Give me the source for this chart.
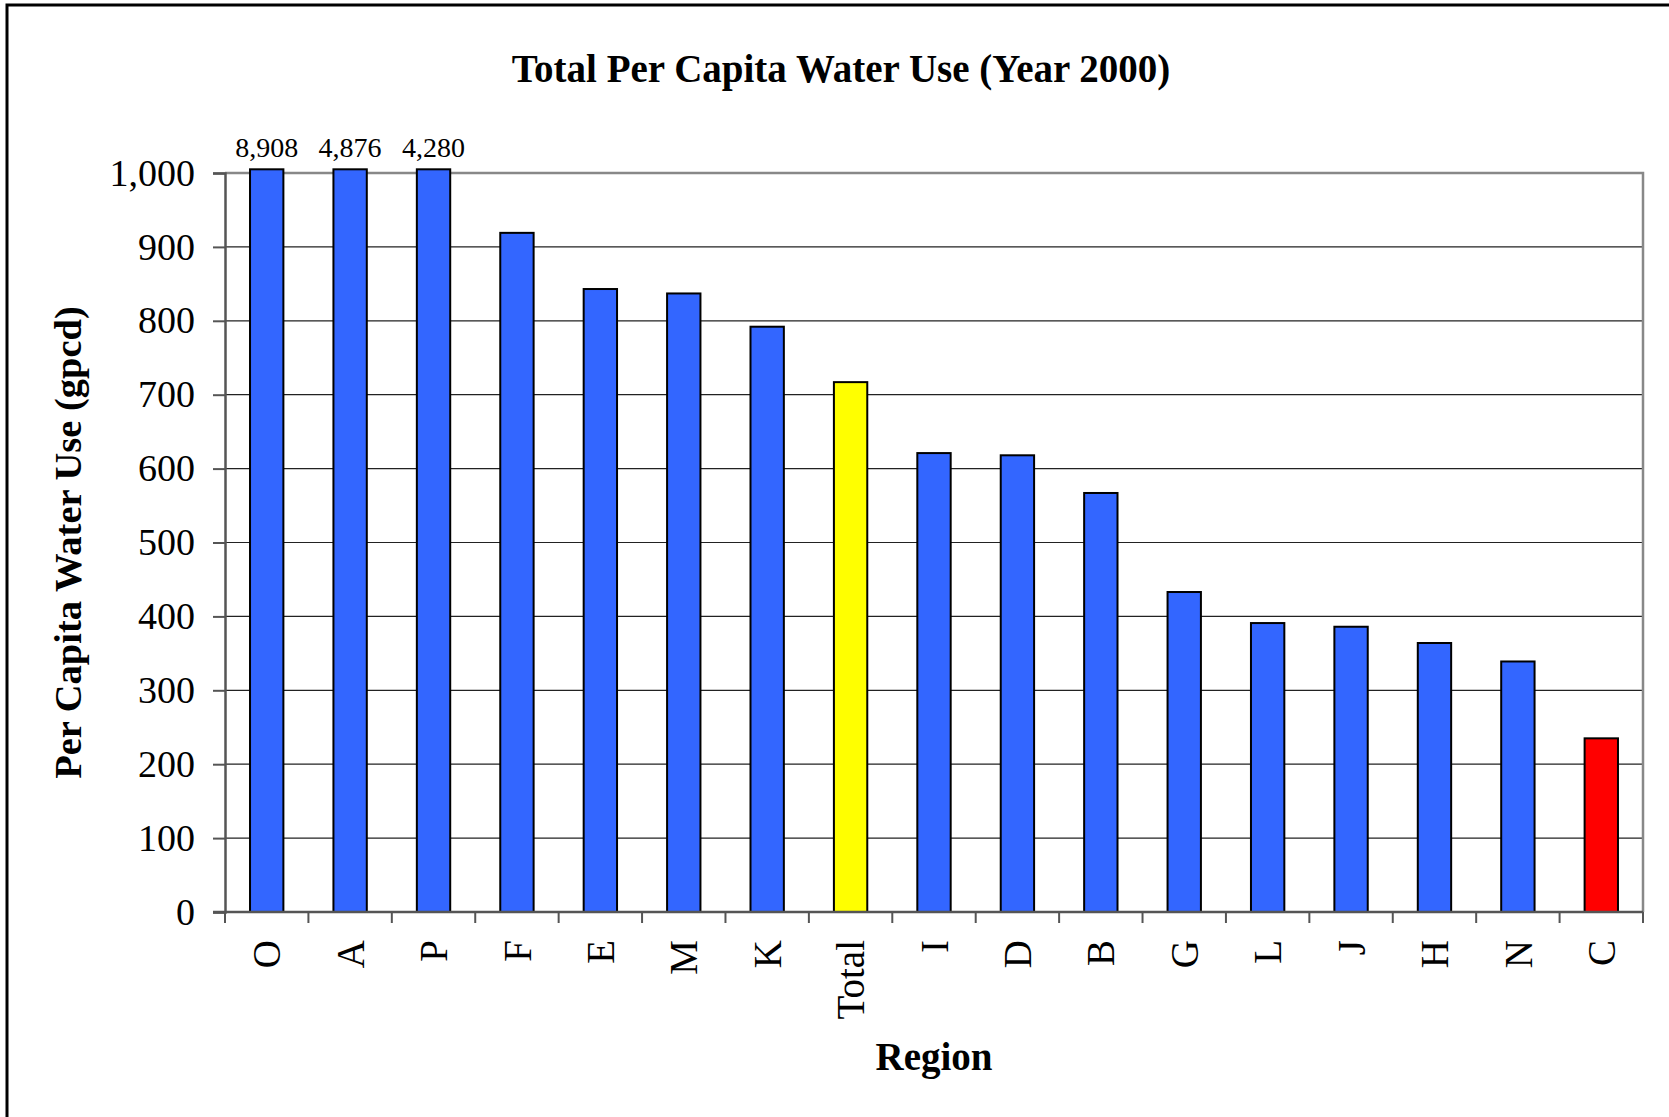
<!DOCTYPE html>
<html>
<head>
<meta charset="utf-8">
<script src="https://cdn.jsdelivr.net/npm/d3@7"></script>
<style>
  body { margin: 0; background: #fff; }
  text { font-family: "Liberation Serif", "Times New Roman", serif; fill: #000; }
</style>
</head>
<body>
<div id="chart"></div>
<script>
const regions = ["O", "A", "P", "F", "E", "M", "K", "Total", "I", "D", "B", "G", "L", "J", "H", "N", "C"];
const gpcd = [8908, 4876, 4280, 919, 843, 837, 792, 717, 621, 618, 567, 433, 391, 386, 364, 339, 235];
const yTicks = [0, 100, 200, 300, 400, 500, 600, 700, 800, 900, 1000];

const width = 1669;
const height = 1117;
const margin = { top: 173, right: 26, bottom: 205, left: 225 };
const yMax = 1000;

const svg = d3
  .select("#chart")
  .append("svg")
  .attr("width", width)
  .attr("height", height);

// outer frame (runs off the right and bottom edges like the original)
svg
  .append("rect")
  .attr("x", 7)
  .attr("y", 5)
  .attr("width", width + 10)
  .attr("height", height + 10)
  .attr("fill", "none")
  .attr("stroke", "#000")
  .attr("stroke-width", 3);

const x = d3
  .scaleBand()
  .domain(regions)
  .range([margin.left, width - margin.right])
  .paddingInner(0.6)
  .paddingOuter(0.3);

const y = d3
  .scaleLinear()
  .domain([0, yMax])
  .range([height - margin.bottom, margin.top]);

const data = regions.map((r, i) => ({ region: r, value: gpcd[i] }));

// gridlines
svg
  .append("g")
  .selectAll("line")
  .data(yTicks.slice(1))
  .join("line")
  .attr("x1", margin.left)
  .attr("x2", width - margin.right)
  .attr("y1", (d) => y(d))
  .attr("y2", (d) => y(d))
  .attr("stroke", "#222")
  .attr("stroke-width", 1.2);

// plot area border (top and right)
svg
  .append("path")
  .attr("d", `M${margin.left},${y(yMax)}H${width - margin.right}V${y(0)}`)
  .attr("fill", "none")
  .attr("stroke", "#888")
  .attr("stroke-width", 2.5);

// bars, clipped just above the axis max
const fill = (d) => (d.region === "Total" ? "#FFFF00" : d.region === "C" ? "#FF0000" : "#3366FF");

svg
  .append("g")
  .selectAll("rect")
  .data(data)
  .join("rect")
  .attr("x", (d) => x(d.region))
  .attr("width", x.bandwidth())
  .attr("y", (d) => y(Math.min(d.value, yMax + 5)))
  .attr("height", (d) => y(0) - y(Math.min(d.value, yMax + 5)))
  .attr("fill", fill)
  .attr("stroke", "#000")
  .attr("stroke-width", 2);

// value labels for bars that run off the scale
svg
  .append("g")
  .selectAll("text")
  .data(data.filter((d) => d.value > yMax))
  .join("text")
  .attr("x", (d) => x(d.region) + x.bandwidth() / 2)
  .attr("y", y(yMax) - 16)
  .attr("text-anchor", "middle")
  .style("font-size", "28px")
  .text((d) => d3.format(",")(d.value));

// y axis
const yAxis = svg
  .append("g")
  .attr("transform", `translate(${margin.left},0)`)
  .call(
    d3
      .axisLeft(y)
      .tickValues(yTicks)
      .tickSize(12)
      .tickPadding(18)
      .tickFormat(d3.format(","))
  );
yAxis.select(".domain").attr("stroke", "#555").attr("stroke-width", 2.5);
yAxis.selectAll(".tick line").attr("stroke", "#555").attr("stroke-width", 2);
yAxis
  .selectAll(".tick text")
  .style("font-size", "38px")
  .style("font-family", '"Liberation Serif", serif')
  .attr("fill", "#000");

// x axis: ticks at band edges
const xAxisG = svg.append("g");
xAxisG
  .append("line")
  .attr("x1", margin.left - 12)
  .attr("x2", width - margin.right)
  .attr("y1", y(0))
  .attr("y2", y(0))
  .attr("stroke", "#555")
  .attr("stroke-width", 2.5);

const edges = d3.range(regions.length + 1).map((i) => margin.left + i * x.step() + x.step() * 0 - x.paddingOuter() * x.step() * 0);
xAxisG
  .selectAll(".xtick")
  .data(d3.range(regions.length + 1))
  .join("line")
  .attr("class", "xtick")
  .attr("x1", (i) => margin.left + i * (width - margin.right - margin.left) / regions.length)
  .attr("x2", (i) => margin.left + i * (width - margin.right - margin.left) / regions.length)
  .attr("y1", y(0))
  .attr("y2", y(0) + 11)
  .attr("stroke", "#555")
  .attr("stroke-width", 2);

xAxisG
  .selectAll("text")
  .data(regions)
  .join("text")
  .attr("transform", (d) => `translate(${x(d) + x.bandwidth() / 2},${y(0) + 28}) rotate(-90)`)
  .attr("text-anchor", "end")
  .attr("dy", "0.35em")
  .style("font-size", "39px")
  .text((d) => d);

// titles
svg
  .append("text")
  .attr("x", (margin.left + width - margin.right) / 2 - 93)
  .attr("y", 82)
  .attr("text-anchor", "middle")
  .style("font-size", "39px")
  .style("font-weight", "bold")
  .text("Total Per Capita Water Use (Year 2000)");

svg
  .append("text")
  .attr("x", (margin.left + width - margin.right) / 2)
  .attr("y", 1070)
  .attr("text-anchor", "middle")
  .style("font-size", "39px")
  .style("font-weight", "bold")
  .text("Region");

svg
  .append("text")
  .attr("transform", `translate(81,${(y(0) + y(yMax)) / 2}) rotate(-90)`)
  .attr("text-anchor", "middle")
  .style("font-size", "38.5px")
  .style("font-weight", "bold")
  .text("Per Capita Water Use (gpcd)");
</script>
</body>
</html>
